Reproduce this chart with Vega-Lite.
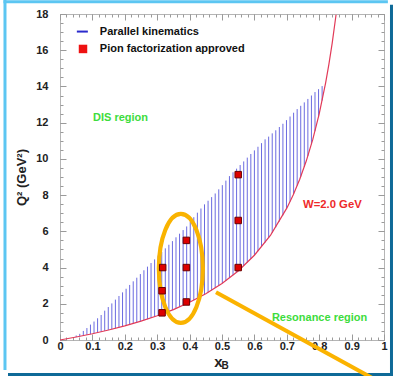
{
  "$schema": "https://vega.github.io/schema/vega-lite/v6.json",
  "width": 324,
  "height": 326,
  "autosize": {"type": "none"},
  "padding": {"left": 60, "top": 14, "right": 9, "bottom": 36},
  "background": "white",
  "config": {
    "view": {"stroke": "#b5b5b5", "strokeWidth": 1},
    "axis": {
      "domain": false, "grid": false, "tickColor": "#9a9a9a", "tickWidth": 1,
      "labelFont": "Liberation Sans", "labelFontWeight": "bold", "labelFontSize": 11, "labelColor": "#222222",
      "labelFlush": false, "labelOverlap": false, "labelBound": false,
      "titleFont": "Liberation Sans", "titleFontWeight": "bold", "titleColor": "#222222"
    }
  },
  "datasets": {
    "frameLight": [
      {"x": -0.1698, "y": 18.78, "x2": -0.1698, "y2": -1.66},
      {"x": -0.1745, "y": 18.674, "x2": 1.012, "y2": 18.674}
    ],
    "frameDark": [
      {"x": 1.0231, "y": 18.51, "x2": 1.0231, "y2": -2.0},
      {"x": -0.1605, "y": -1.906, "x2": 1.03, "y2": -1.906}
    ],
    "hatch": [
      {"x": 0.050, "lo": 0.16, "hi": 0.25}, {"x": 0.061, "lo": 0.20, "hi": 0.34},
      {"x": 0.072, "lo": 0.24, "hi": 0.50}, {"x": 0.083, "lo": 0.28, "hi": 0.66},
      {"x": 0.094, "lo": 0.32, "hi": 0.85}, {"x": 0.105, "lo": 0.37, "hi": 1.02},
      {"x": 0.116, "lo": 0.41, "hi": 1.20}, {"x": 0.127, "lo": 0.45, "hi": 1.38},
      {"x": 0.138, "lo": 0.50, "hi": 1.62}, {"x": 0.149, "lo": 0.55, "hi": 1.82},
      {"x": 0.160, "lo": 0.59, "hi": 2.02}, {"x": 0.171, "lo": 0.64, "hi": 2.23},
      {"x": 0.182, "lo": 0.69, "hi": 2.43}, {"x": 0.193, "lo": 0.75, "hi": 2.63},
      {"x": 0.204, "lo": 0.80, "hi": 2.83}, {"x": 0.215, "lo": 0.85, "hi": 3.04},
      {"x": 0.226, "lo": 0.91, "hi": 3.24}, {"x": 0.237, "lo": 0.97, "hi": 3.44},
      {"x": 0.248, "lo": 1.03, "hi": 3.64}, {"x": 0.259, "lo": 1.09, "hi": 3.85},
      {"x": 0.270, "lo": 1.15, "hi": 4.05}, {"x": 0.281, "lo": 1.22, "hi": 4.25},
      {"x": 0.292, "lo": 1.29, "hi": 4.45}, {"x": 0.303, "lo": 1.36, "hi": 4.66},
      {"x": 0.314, "lo": 1.43, "hi": 4.86}, {"x": 0.325, "lo": 1.50, "hi": 5.06},
      {"x": 0.336, "lo": 1.58, "hi": 5.26}, {"x": 0.347, "lo": 1.66, "hi": 5.46},
      {"x": 0.358, "lo": 1.74, "hi": 5.67}, {"x": 0.369, "lo": 1.82, "hi": 5.87},
      {"x": 0.380, "lo": 1.91, "hi": 6.07}, {"x": 0.391, "lo": 2.00, "hi": 6.27},
      {"x": 0.402, "lo": 2.10, "hi": 6.53}, {"x": 0.413, "lo": 2.20, "hi": 6.78},
      {"x": 0.424, "lo": 2.30, "hi": 7.03}, {"x": 0.435, "lo": 2.40, "hi": 7.26},
      {"x": 0.446, "lo": 2.51, "hi": 7.49}, {"x": 0.457, "lo": 2.63, "hi": 7.69},
      {"x": 0.468, "lo": 2.74, "hi": 7.89}, {"x": 0.479, "lo": 2.87, "hi": 8.09},
      {"x": 0.490, "lo": 3.00, "hi": 8.32}, {"x": 0.501, "lo": 3.13, "hi": 8.55},
      {"x": 0.512, "lo": 3.27, "hi": 8.80}, {"x": 0.523, "lo": 3.42, "hi": 9.05},
      {"x": 0.534, "lo": 3.58, "hi": 9.26}, {"x": 0.545, "lo": 3.74, "hi": 9.46},
      {"x": 0.556, "lo": 3.91, "hi": 9.66}, {"x": 0.567, "lo": 4.09, "hi": 9.86},
      {"x": 0.578, "lo": 4.27, "hi": 10.07}, {"x": 0.589, "lo": 4.47, "hi": 10.27},
      {"x": 0.600, "lo": 4.68, "hi": 10.47}, {"x": 0.611, "lo": 4.90, "hi": 10.67},
      {"x": 0.622, "lo": 5.13, "hi": 10.87}, {"x": 0.633, "lo": 5.38, "hi": 11.08},
      {"x": 0.644, "lo": 5.64, "hi": 11.23}, {"x": 0.655, "lo": 5.92, "hi": 11.41},
      {"x": 0.666, "lo": 6.22, "hi": 11.58}, {"x": 0.677, "lo": 6.54, "hi": 11.76},
      {"x": 0.688, "lo": 6.88, "hi": 11.94}, {"x": 0.699, "lo": 7.25, "hi": 12.14},
      {"x": 0.710, "lo": 7.64, "hi": 12.34}, {"x": 0.721, "lo": 8.06, "hi": 12.55},
      {"x": 0.732, "lo": 8.52, "hi": 12.75}, {"x": 0.743, "lo": 9.02, "hi": 12.93},
      {"x": 0.754, "lo": 9.56, "hi": 13.12}, {"x": 0.765, "lo": 10.16, "hi": 13.31},
      {"x": 0.776, "lo": 10.81, "hi": 13.50}, {"x": 0.787, "lo": 11.53, "hi": 13.69},
      {"x": 0.798, "lo": 12.33, "hi": 13.85}, {"x": 0.809, "lo": 13.22, "hi": 14.02}
    ],
    "wcurve": [
      {"x": 0, "q2": 0}, {"x": 0.05, "q2": 0.164}, {"x": 0.1, "q2": 0.347},
      {"x": 0.15, "q2": 0.551}, {"x": 0.2, "q2": 0.78}, {"x": 0.25, "q2": 1.04},
      {"x": 0.3, "q2": 1.337}, {"x": 0.35, "q2": 1.68}, {"x": 0.4, "q2": 2.08},
      {"x": 0.45, "q2": 2.553}, {"x": 0.5, "q2": 3.12}, {"x": 0.55, "q2": 3.813},
      {"x": 0.6, "q2": 4.68}, {"x": 0.65, "q2": 5.794}, {"x": 0.7, "q2": 7.28},
      {"x": 0.72, "q2": 8.023}, {"x": 0.74, "q2": 8.88}, {"x": 0.76, "q2": 9.88},
      {"x": 0.78, "q2": 11.062}, {"x": 0.8, "q2": 12.48}, {"x": 0.82, "q2": 14.213},
      {"x": 0.83, "q2": 15.232}, {"x": 0.84, "q2": 16.38}, {"x": 0.852, "q2": 17.961}
    ],
    "points": [
      {"x": 0.315, "q2": 1.5}, {"x": 0.315, "q2": 2.72}, {"x": 0.317, "q2": 4.0},
      {"x": 0.39, "q2": 2.1}, {"x": 0.39, "q2": 4.0}, {"x": 0.39, "q2": 5.5},
      {"x": 0.55, "q2": 4.0}, {"x": 0.55, "q2": 6.6}, {"x": 0.55, "q2": 9.13}
    ],
    "greenText": [
      {"x": 0.102, "y": 12.25, "label": "DIS region"},
      {"x": 0.654, "y": 1.24, "label": "Resonance region"}
    ],
    "redText": [
      {"x": 0.75, "y": 7.46, "label": "W=2.0 GeV"}
    ],
    "legendText": [
      {"x": 0.123, "y": 17.03, "label": "Parallel kinematics"},
      {"x": 0.123, "y": 16.07, "label": "Pion factorization approved"}
    ],
    "legendLine": [{"x": 0.052, "x2": 0.086, "y": 17.03}],
    "legendSquare": [{"x": 0.071, "y": 16.07}],
    "ellipse": [{"x": 0.373, "y": 3.95}],
    "pointer": [{"x": 0.4815, "y": 2.63}, {"x": 0.975, "y": -2.21}],
    "xTitle": [{"x": 0.4886, "y": -1.19, "label": "x"}],
    "xSub": [{"x": 0.5095, "y": -1.45, "label": "B"}]
  },
  "resolve": {"axis": {"x": "independent", "y": "independent"}},
  "layer": [
    {
      "data": {"name": "frameLight"},
      "mark": {"type": "rule", "color": "#5cc6f2", "strokeWidth": 3, "clip": false},
      "encoding": {
        "x": {"field": "x", "type": "quantitative", "scale": {"domain": [0, 1], "nice": false}, "axis": null},
        "y": {"field": "y", "type": "quantitative", "scale": {"domain": [0, 18], "nice": false}, "axis": null},
        "x2": {"field": "x2"}, "y2": {"field": "y2"}
      }
    },
    {
      "data": {"name": "frameDark"},
      "mark": {"type": "rule", "color": "#0f6a98", "strokeWidth": 3, "clip": false},
      "encoding": {
        "x": {"field": "x", "type": "quantitative", "scale": {"domain": [0, 1], "nice": false}, "axis": null},
        "y": {"field": "y", "type": "quantitative", "scale": {"domain": [0, 18], "nice": false}, "axis": null},
        "x2": {"field": "x2"}, "y2": {"field": "y2"}
      }
    },
    {
      "data": {"name": "hatch"},
      "mark": {"type": "rule", "color": "#6b6be0", "strokeWidth": 1},
      "encoding": {
        "x": {"field": "x", "type": "quantitative", "scale": {"domain": [0, 1], "nice": false},
          "axis": {"orient": "bottom", "values": [0, 0.1, 0.2, 0.3, 0.4, 0.5, 0.6, 0.7, 0.8, 0.9, 1], "format": "~g", "tickSize": -6, "labelPadding": 6, "title": null}},
        "y": {"field": "lo", "type": "quantitative", "scale": {"domain": [0, 18], "nice": false},
          "axis": {"orient": "left", "values": [0, 2, 4, 6, 8, 10, 12, 14, 16, 18], "format": "d", "tickSize": -6, "labelPadding": 18, "title": "Q² (GeV²)", "titleFontSize": 13, "titlePadding": 7}},
        "y2": {"field": "hi"}
      }
    },
    {
      "data": {"name": "wcurve"},
      "mark": {"type": "line", "color": "#e23a58", "strokeWidth": 1.2},
      "encoding": {
        "x": {"field": "x", "type": "quantitative", "scale": {"domain": [0, 1], "nice": false},
          "axis": {"orient": "bottom", "values": [0,0.02,0.04,0.06,0.08,0.1,0.12,0.14,0.16,0.18,0.2,0.22,0.24,0.26,0.28,0.3,0.32,0.34,0.36,0.38,0.4,0.42,0.44,0.46,0.48,0.5,0.52,0.54,0.56,0.58,0.6,0.62,0.64,0.66,0.68,0.7,0.72,0.74,0.76,0.78,0.8,0.82,0.84,0.86,0.88,0.9,0.92,0.94,0.96,0.98,1], "tickSize": -3, "labels": false, "title": null}},
        "y": {"field": "q2", "type": "quantitative", "scale": {"domain": [0, 18], "nice": false},
          "axis": {"orient": "left", "values": [0,0.5,1,1.5,2,2.5,3,3.5,4,4.5,5,5.5,6,6.5,7,7.5,8,8.5,9,9.5,10,10.5,11,11.5,12,12.5,13,13.5,14,14.5,15,15.5,16,16.5,17,17.5,18], "tickSize": -3, "labels": false, "title": null}}
      }
    },
    {
      "data": {"name": "ellipse"},
      "mark": {"type": "point", "shape": "M0,-1C0.2231,-1,0.404,-0.5523,0.404,0C0.404,0.5523,0.2231,1,0,1C-0.2231,1,-0.404,0.5523,-0.404,0C-0.404,-0.5523,-0.2231,-1,0,-1Z", "size": 11881, "filled": false, "stroke": "#f9b300", "strokeWidth": 4.2, "opacity": 1},
      "encoding": {
        "x": {"field": "x", "type": "quantitative", "scale": {"domain": [0, 1], "nice": false}, "axis": null},
        "y": {"field": "y", "type": "quantitative", "scale": {"domain": [0, 18], "nice": false}, "axis": null}
      }
    },
    {
      "data": {"name": "points"},
      "mark": {"type": "point", "shape": "square", "size": 42, "filled": true, "fill": "#dd0000", "stroke": "#6a0000", "strokeWidth": 1, "opacity": 1},
      "encoding": {
        "x": {"field": "x", "type": "quantitative", "scale": {"domain": [0, 1], "nice": false},
          "axis": {"orient": "top", "values": [0, 0.1, 0.2, 0.3, 0.4, 0.5, 0.6, 0.7, 0.8, 0.9, 1], "tickSize": -6, "labels": false, "title": null}},
        "y": {"field": "q2", "type": "quantitative", "scale": {"domain": [0, 18], "nice": false},
          "axis": {"orient": "right", "values": [0, 2, 4, 6, 8, 10, 12, 14, 16, 18], "tickSize": -6, "labels": false, "title": null}}
      }
    },
    {
      "data": {"name": "greenText"},
      "mark": {"type": "text", "align": "left", "baseline": "middle", "font": "Liberation Sans", "fontWeight": "bold", "fontSize": 11, "color": "#3ddc3d"},
      "encoding": {
        "x": {"field": "x", "type": "quantitative", "scale": {"domain": [0, 1], "nice": false},
          "axis": {"orient": "top", "values": [0,0.02,0.04,0.06,0.08,0.1,0.12,0.14,0.16,0.18,0.2,0.22,0.24,0.26,0.28,0.3,0.32,0.34,0.36,0.38,0.4,0.42,0.44,0.46,0.48,0.5,0.52,0.54,0.56,0.58,0.6,0.62,0.64,0.66,0.68,0.7,0.72,0.74,0.76,0.78,0.8,0.82,0.84,0.86,0.88,0.9,0.92,0.94,0.96,0.98,1], "tickSize": -3, "labels": false, "title": null}},
        "y": {"field": "y", "type": "quantitative", "scale": {"domain": [0, 18], "nice": false},
          "axis": {"orient": "right", "values": [0,0.5,1,1.5,2,2.5,3,3.5,4,4.5,5,5.5,6,6.5,7,7.5,8,8.5,9,9.5,10,10.5,11,11.5,12,12.5,13,13.5,14,14.5,15,15.5,16,16.5,17,17.5,18], "tickSize": -3, "labels": false, "title": null}},
        "text": {"field": "label"}
      }
    },
    {
      "data": {"name": "redText"},
      "mark": {"type": "text", "align": "left", "baseline": "middle", "font": "Liberation Sans", "fontWeight": "bold", "fontSize": 11.3, "color": "#ee2a2a"},
      "encoding": {
        "x": {"field": "x", "type": "quantitative", "scale": {"domain": [0, 1], "nice": false}, "axis": null},
        "y": {"field": "y", "type": "quantitative", "scale": {"domain": [0, 18], "nice": false}, "axis": null},
        "text": {"field": "label"}
      }
    },
    {
      "data": {"name": "legendText"},
      "mark": {"type": "text", "align": "left", "baseline": "middle", "font": "Liberation Sans", "fontWeight": "bold", "fontSize": 11, "color": "#111111"},
      "encoding": {
        "x": {"field": "x", "type": "quantitative", "scale": {"domain": [0, 1], "nice": false}, "axis": null},
        "y": {"field": "y", "type": "quantitative", "scale": {"domain": [0, 18], "nice": false}, "axis": null},
        "text": {"field": "label"}
      }
    },
    {
      "data": {"name": "legendLine"},
      "mark": {"type": "rule", "color": "#2a2acc", "strokeWidth": 2},
      "encoding": {
        "x": {"field": "x", "type": "quantitative", "scale": {"domain": [0, 1], "nice": false}, "axis": null},
        "x2": {"field": "x2"},
        "y": {"field": "y", "type": "quantitative", "scale": {"domain": [0, 18], "nice": false}, "axis": null}
      }
    },
    {
      "data": {"name": "legendSquare"},
      "mark": {"type": "point", "shape": "square", "size": 72, "filled": true, "fill": "#ee1111", "strokeWidth": 0, "opacity": 1},
      "encoding": {
        "x": {"field": "x", "type": "quantitative", "scale": {"domain": [0, 1], "nice": false}, "axis": null},
        "y": {"field": "y", "type": "quantitative", "scale": {"domain": [0, 18], "nice": false}, "axis": null}
      }
    },
    {
      "data": {"name": "pointer"},
      "mark": {"type": "line", "color": "#fbb300", "strokeWidth": 4, "clip": false},
      "encoding": {
        "x": {"field": "x", "type": "quantitative", "scale": {"domain": [0, 1], "nice": false}, "axis": null},
        "y": {"field": "y", "type": "quantitative", "scale": {"domain": [0, 18], "nice": false}, "axis": null}
      }
    },
    {
      "data": {"name": "xTitle"},
      "mark": {"type": "text", "align": "center", "baseline": "middle", "font": "Liberation Sans", "fontWeight": "bold", "fontSize": 15, "color": "#222222", "clip": false},
      "encoding": {
        "x": {"field": "x", "type": "quantitative", "scale": {"domain": [0, 1], "nice": false}, "axis": null},
        "y": {"field": "y", "type": "quantitative", "scale": {"domain": [0, 18], "nice": false}, "axis": null},
        "text": {"field": "label"}
      }
    },
    {
      "data": {"name": "xSub"},
      "mark": {"type": "text", "align": "center", "baseline": "middle", "font": "Liberation Sans", "fontWeight": "bold", "fontSize": 10, "color": "#222222", "clip": false},
      "encoding": {
        "x": {"field": "x", "type": "quantitative", "scale": {"domain": [0, 1], "nice": false}, "axis": null},
        "y": {"field": "y", "type": "quantitative", "scale": {"domain": [0, 18], "nice": false}, "axis": null},
        "text": {"field": "label"}
      }
    }
  ]
}
